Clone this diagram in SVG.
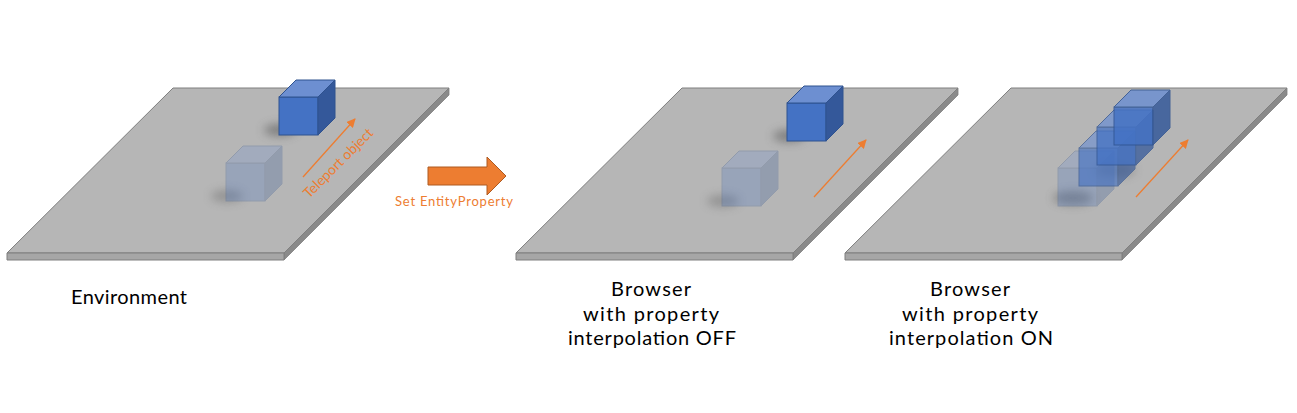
<svg xmlns="http://www.w3.org/2000/svg" xmlns:xlink="http://www.w3.org/1999/xlink" width="1297" height="413" viewBox="0 0 1297 413">
<style>
.lbl{font-family:Lato,"Open Sans","Liberation Sans",sans-serif;font-size:20px;fill:#000}
.org{font-family:Lato,"Open Sans","Liberation Sans",sans-serif;fill:#ED7D31}
.ptop{fill:#B6B6B6;stroke:#7F7F7F;stroke-width:1}
.pfront{fill:#A6A6A6;stroke:#7F7F7F;stroke-width:1}
.pside{fill:#8A8A8A;stroke:#7F7F7F;stroke-width:0.8}
.cf{fill:#4472C4}
.ct{fill:#6D8FD1}
.cs{fill:#34589A}
.cube path, .cube rect{stroke:#2F528F;stroke-width:1}
.mv{stroke:#ED7D31;stroke-width:1.3;fill:none;marker-end:url(#ah)}
</style>
<defs>
<marker id="ah" viewBox="0 0 10 10" refX="9" refY="5" markerWidth="9" markerHeight="9" markerUnits="userSpaceOnUse" orient="auto">
<path d="M0,0 L10,5 L0,10 z" fill="#ED7D31"/>
</marker>
<filter id="blur" x="-50%" y="-100%" width="200%" height="300%">
<feGaussianBlur stdDeviation="5"/>
</filter>
<g id="plane">
<polygon class="ptop" points="173,88 449,88 284,253 7,253"/>
<polygon class="pside" points="449,88 449,95 284,260 284,253"/>
<polygon class="pfront" points="7,253 284,253 284,260 7,260"/>
</g>
<g id="cube" class="cube">
<rect class="cf" x="0" y="0" width="39" height="38"/>
<path class="ct" d="M0,0 L17,-17 L56,-17 L39,0 Z"/>
<path class="cs" d="M39,0 L56,-17 L56,21 L39,38 Z"/>
</g>
</defs>

<g id="environment">
<use xlink:href="#plane"/>
<ellipse cx="280" cy="130" rx="16" ry="6" fill="#505050" opacity="0.55" filter="url(#blur)"/>
<ellipse cx="227" cy="196" rx="16" ry="6" fill="#505050" opacity="0.35" filter="url(#blur)"/>
<use xlink:href="#cube" x="226" y="163" opacity="0.26"/>
<use xlink:href="#cube" x="279" y="97"/>
<text class="org" font-size="14" x="309" y="199" textLength="92" transform="rotate(-45 309 199)">Teleport object</text>
<text class="lbl" x="71" y="304" textLength="116">Environment</text>
</g>

<g id="browser-off">
<use xlink:href="#plane" x="509"/>
<ellipse cx="789" cy="136" rx="16" ry="6" fill="#505050" opacity="0.55" filter="url(#blur)"/>
<ellipse cx="723" cy="201" rx="16" ry="6" fill="#505050" opacity="0.35" filter="url(#blur)"/>
<use xlink:href="#cube" x="722" y="168" opacity="0.26"/>
<use xlink:href="#cube" x="787" y="103"/>
<text class="lbl" text-anchor="middle" x="651" y="296" textLength="80">Browser</text>
<text class="lbl" text-anchor="middle" x="651" y="321" textLength="136">with property</text>
<text class="lbl" text-anchor="middle" x="652" y="345" textLength="168">interpolation OFF</text>
</g>

<g id="browser-on">
<use xlink:href="#plane" x="838"/>
<ellipse cx="1073" cy="198" rx="20" ry="7" fill="#505050" opacity="0.45" filter="url(#blur)"/>
<ellipse cx="1115" cy="170" rx="20" ry="7" fill="#505050" opacity="0.35" filter="url(#blur)"/>
<use xlink:href="#cube" x="1058" y="168" opacity="0.26"/>
<use xlink:href="#cube" x="1079" y="148" opacity="0.64"/>
<use xlink:href="#cube" x="1097" y="127" opacity="0.74"/>
<use xlink:href="#cube" x="1114" y="107" opacity="0.84"/>
<text class="lbl" text-anchor="middle" x="970" y="296" textLength="80">Browser</text>
<text class="lbl" text-anchor="middle" x="970" y="321" textLength="136">with property</text>
<text class="lbl" text-anchor="middle" x="971" y="345" textLength="164">interpolation ON</text>
</g>

<g id="set-entity-property">
<polygon points="428,167 487,167 487,157 506,176 487,195 487,185 428,185" fill="#ED7D31" stroke="#AE5A21" stroke-width="1"/>
<text class="org" font-size="13" x="395" y="206" textLength="118">Set EntityProperty</text>
</g>

<g id="connectors">
<line class="mv" x1="303" y1="177" x2="355" y2="119"/>
<line class="mv" x1="814" y1="197" x2="866" y2="140"/>
<line class="mv" x1="1136" y1="197" x2="1188" y2="140"/>
</g>
</svg>
